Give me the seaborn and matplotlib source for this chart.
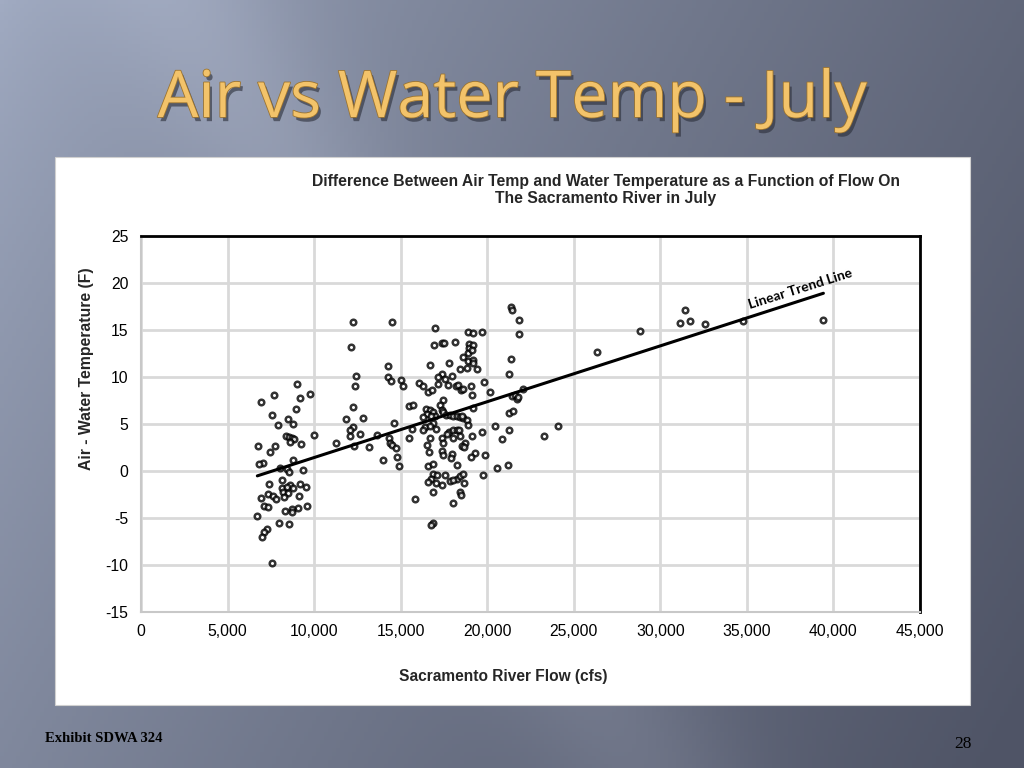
import numpy as np
import pandas as pd
import matplotlib
matplotlib.use("Agg")
import matplotlib.pyplot as plt
import matplotlib.patheffects as pe
from matplotlib.patches import Rectangle
import seaborn as sns

# ---------------- data ----------------
flow_low = [9030, 7670, 9780, 9190, 6950, 8950, 7590, 8490, 7920, 8800, 8360, 8570,
            8710, 8840, 8610, 9990, 6780, 7720, 9240, 7450, 8800, 7030, 6830, 8030,
            8450, 8550, 9340, 8160, 7390, 9190, 9510, 8610, 8130, 8420, 8800, 8220,
            8510, 7340, 7610, 6920, 7800, 8280, 9150, 7110, 7350, 9570, 9090, 8710,
            8320, 8710, 6720, 7960, 8550, 7260, 7120, 6990, 7590]
diff_low = [9.3, 8.1, 8.2, 7.8, 7.3, 6.6, 6.0, 5.5, 4.9, 5.0, 3.7, 3.6,
            3.5, 3.4, 3.1, 3.8, 2.7, 2.7, 2.9, 2.0, 1.2, 0.9, 0.7, 0.3,
            0.2, -0.1, 0.1, -1.0, -1.4, -1.4, -1.7, -1.5, -1.8, -1.7, -1.8, -2.2,
            -2.3, -2.4, -2.7, -2.9, -3.0, -2.8, -2.7, -3.7, -3.8, -3.7, -3.9, -4.0,
            -4.3, -4.4, -4.8, -5.5, -5.6, -6.2, -6.5, -7.0, -9.8]

flow_mid = [12270, 14520, 12130, 14270, 12420, 14290, 14440, 15000, 15120, 12340,
            12270, 11840, 12840, 14630, 12270, 12070, 12650, 12070, 13620, 11250,
            12310, 13150, 14310, 14380, 14480, 14730, 13960, 14770, 14890, 15460, 15500]
diff_mid = [15.8, 15.8, 13.2, 11.2, 10.1, 10.0, 9.6, 9.7, 9.0, 9.0,
            6.8, 5.5, 5.6, 5.1, 4.7, 4.4, 3.9, 3.7, 3.8, 3.0,
            2.7, 2.6, 3.5, 3.0, 2.8, 2.5, 1.2, 1.5, 0.5, 6.9, 3.5]

flow_core = [16990, 18910, 16950, 17370, 17520, 18140, 18930, 18930, 18910, 18620,
             18910, 17810, 16700, 18430, 18810, 17370, 17180, 17560, 17950, 16080,
             16310, 17180, 17750, 18200, 18330, 18470, 18620, 16600, 16790, 15690,
             17470, 17270, 16470, 16700, 16890, 16540, 16990, 16730, 17370, 17470,
             17620, 17850, 18040, 18240, 18430, 18620, 18520, 18810, 16310, 16890,
             16410, 16700, 17040, 18910, 15640, 16310, 17810, 18010, 18240, 18390,
             17700, 16700, 17370, 18010, 18430, 17470, 16540, 18720, 18520, 18660,
             16660, 17370, 17430, 17950, 17890, 18270, 16600, 16890, 16850, 17080,
             16730, 17560, 18240, 18430, 18580, 17850, 18040, 16600, 17040, 17370,
             18660, 16850, 18040, 18430, 18470, 15830, 16850, 16730]
diff_core = [15.2, 14.8, 13.4, 13.6, 13.6, 13.7, 13.5, 13.1, 12.6, 12.1,
             11.7, 11.5, 11.3, 10.9, 11.0, 10.3, 10.0, 9.8, 10.1, 9.4,
             9.0, 9.3, 9.2, 9.0, 9.2, 8.6, 8.7, 8.4, 8.6, 7.0,
             7.6, 7.0, 6.6, 6.5, 6.3, 6.1, 5.9, 5.8, 6.5, 6.3,
             6.0, 6.0, 5.9, 5.8, 5.7, 5.6, 5.9, 5.4, 5.7, 5.1,
             4.7, 4.8, 4.5, 4.9, 4.5, 4.4, 4.2, 4.4, 4.4, 4.4,
             3.9, 3.5, 3.5, 3.5, 3.7, 3.0, 2.8, 3.0, 2.7, 2.6,
             2.0, 2.1, 1.7, 1.8, 1.4, 0.6, 0.5, 0.7, -0.3, -0.4,
             -0.8, -0.4, -0.8, -0.5, -0.3, -1.1, -1.0, -1.2, -1.3, -1.5,
             -1.3, -2.2, -3.4, -2.2, -2.6, -3.0, -5.5, -5.7]

flow_high = [19160, 19720, 19200, 19100, 19160, 19200, 19430, 19060, 19810, 19100,
             20160, 19200, 19680, 19100, 19870, 19290, 19060, 19770,
             21380, 21430, 21860, 21840, 21380, 21260, 22090, 21410, 21610, 21740,
             21800, 21280, 21470, 20450, 21260, 24070, 20840, 23280, 20550, 21180,
             26360, 28850, 31450, 31160, 31720, 32600, 34790, 39420]
diff_high = [14.7, 14.8, 13.4, 12.9, 11.8, 11.5, 10.9, 9.0, 9.5, 8.1,
             8.4, 6.7, 4.2, 3.7, 1.7, 1.9, 1.5, -0.4,
             17.4, 17.1, 16.1, 14.6, 11.9, 10.3, 8.7, 8.0, 8.1, 7.7,
             7.9, 6.2, 6.4, 4.8, 4.4, 4.8, 3.4, 3.7, 0.3, 0.6,
             12.7, 14.9, 17.1, 15.7, 16.0, 15.6, 16.0, 16.1]

x_ticks = [0, 5000, 10000, 15000, 20000, 25000, 30000, 35000, 40000, 45000]
y_ticks = [-15, -10, -5, 0, 5, 10, 15, 20, 25]

slide_title = "Air vs Water Temp - July"
chart_title = ("Difference Between Air Temp and Water Temperature as a Function of Flow On\n"
               "The Sacramento River in July")
x_label = "Sacramento River Flow (cfs)"
y_label = "Air - Water Temperature (F)"
trend_label = "Linear Trend Line"
footer_left = "Exhibit SDWA 324"
footer_right = "28"

df = pd.DataFrame({
    "flow": flow_low + flow_mid + flow_core + flow_high,
    "diff": diff_low + diff_mid + diff_core + diff_high,
})

# ---------------- figure ----------------
sns.set_style("white")
plt.rcParams["font.family"] = ["Liberation Sans", "DejaVu Sans"]

W, H = 1024, 768
fig = plt.figure(figsize=(W / 100, H / 100), dpi=100)

# slide background gradient
bg = fig.add_axes([0, 0, 1, 1], zorder=-10)
xx, yy = np.meshgrid(np.linspace(0, 1, 256), np.linspace(0, 1, 192))
light = np.array([0.63, 0.67, 0.76])
dark = np.array([0.31, 0.33, 0.40])
t = np.clip(0.72 * xx + 0.3 * yy, 0, 1) ** 0.75
band = np.exp(-((xx - 0.18 - 0.45 * yy) / 0.10) ** 2) * 0.06
img = light[None, None, :] * (1 - t[..., None]) + dark[None, None, :] * t[..., None] + band[..., None]
bg.imshow(np.clip(img, 0, 1), aspect="auto", extent=[0, 1, 0, 1], origin="upper")
bg.set_axis_off()

# white chart panel
fig.patches.append(Rectangle((55 / W, 1 - 705 / H), 915 / W, 548 / H,
                             transform=fig.transFigure, facecolor="white",
                             edgecolor="#d0d0d0", linewidth=0.8, zorder=-5))

# slide title
fig.text(512 / W, 1 - 100 / H, slide_title, ha="center", va="center",
         fontsize=46.5, family=["Open Sans", "DejaVu Sans"], color="#f3c36a",
         path_effects=[pe.withSimplePatchShadow(offset=(2, -3), shadow_rgbFace="#2a2d38", alpha=0.6),
                       pe.withStroke(linewidth=1.2, foreground="#9c7430")])

# main axes
ax = fig.add_axes([141 / W, 1 - 612 / H, 779 / W, 376 / H])
sns.regplot(data=df, x="flow", y="diff", ax=ax, ci=None, truncate=True,
            scatter_kws=dict(s=16, facecolor="white", edgecolor="black", linewidths=1.8, zorder=3),
            line_kws=dict(color="black", linewidth=2.2, zorder=4))

ax.set_xlim(0, 45000)
ax.set_ylim(-15, 25)
ax.set_xticks(x_ticks)
ax.set_yticks(y_ticks)
ax.set_xticklabels([f"{v:,}" for v in x_ticks])
ax.set_yticklabels([str(v) for v in y_ticks])
ax.tick_params(axis="both", length=0, labelsize=11.3, colors="black", pad=9)
ax.grid(True, color="#d9d9d9", linewidth=2)
ax.set_axisbelow(True)
for side in ["top", "right"]:
    ax.spines[side].set_color("black")
    ax.spines[side].set_linewidth(2)
for side in ["left", "bottom"]:
    ax.spines[side].set_color("#c8c8c8")
    ax.spines[side].set_linewidth(1.5)
ax.set_xlabel("")
ax.set_ylabel("")

# titles and labels
fig.text(606 / W, 1 - 190 / H, chart_title, ha="center", va="center",
         fontsize=11.3, fontweight="bold", linespacing=1.2)
fig.text(503 / W, 1 - 676 / H, x_label, ha="center", va="center",
         fontsize=11.2, fontweight="bold")
fig.text(87 / W, 1 - 369 / H, y_label, ha="center", va="center",
         rotation=90, fontsize=11.3, fontweight="bold")

# trend line label
ax.text(38100, 19.4, trend_label, ha="center", va="center", rotation=17.5,
        fontsize=10, fontweight="bold", family=["Lato", "DejaVu Sans"], color="black")

# footer
fig.text(45 / W, 1 - 739 / H, footer_left, ha="left", va="center",
         fontsize=10.5, fontweight="bold", family=["Liberation Serif", "DejaVu Serif"], color="black")
fig.text(972 / W, 1 - 744 / H, footer_right, ha="right", va="center",
         fontsize=12.5, family=["Liberation Serif", "DejaVu Serif"], color="black")

fig.savefig("out.png", dpi=100)
